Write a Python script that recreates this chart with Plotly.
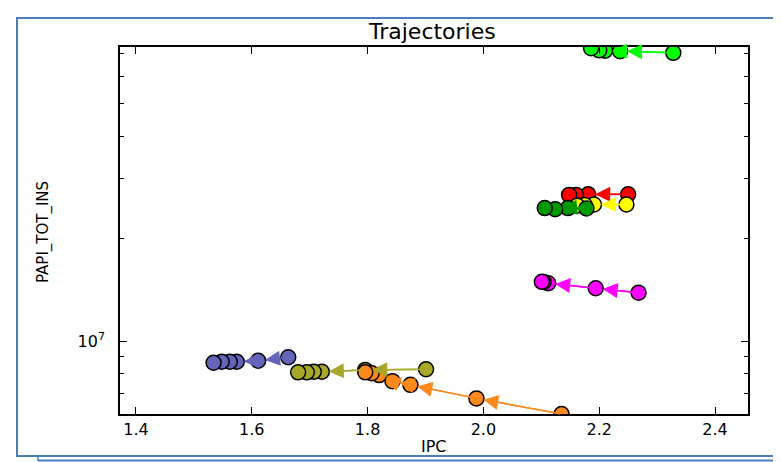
import numpy as np
import plotly.graph_objects as go

# ---------------- data ----------------
lime_ipc = [2.328, 2.236, 2.210, 2.200, 2.186]
lime_ins = [7.04e7, 7.12e7, 7.14e7, 7.16e7, 7.26e7]

red_ipc = [2.250, 2.181, 2.160, 2.148]
red_ins = [2.70e7, 2.70e7, 2.69e7, 2.69e7]

yellow_ipc = [2.247, 2.191, 2.175, 2.162]
yellow_ins = [2.52e7, 2.52e7, 2.51e7, 2.50e7]

green_ipc = [2.178, 2.146, 2.124, 2.106]
green_ins = [2.455e7, 2.46e7, 2.44e7, 2.46e7]

magenta_ipc = [2.268, 2.194, 2.112, 2.104, 2.101]
magenta_ins = [1.387e7, 1.429e7, 1.479e7, 1.49e7, 1.493e7]

blue_ipc = [1.663, 1.611, 1.574, 1.562, 1.548, 1.534]
blue_ins = [8.96e6, 8.75e6, 8.69e6, 8.69e6, 8.69e6, 8.63e6]

olive_ipc = [1.901, 1.796, 1.721, 1.707, 1.695, 1.680]
olive_ins = [8.26e6, 8.22e6, 8.12e6, 8.12e6, 8.09e6, 8.09e6]

orange_ipc = [2.135, 1.988, 1.874, 1.843, 1.820, 1.807, 1.796]
orange_ins = [6.10e6, 6.78e6, 7.43e6, 7.62e6, 7.94e6, 8.04e6, 8.09e6]

series = [
    ("lime", lime_ipc, lime_ins, "#00ff00"),
    ("red", red_ipc, red_ins, "#ff0000"),
    ("yellow", yellow_ipc, yellow_ins, "#ffff00"),
    ("green", green_ipc, green_ins, "#009a00"),
    ("magenta", magenta_ipc, magenta_ins, "#ff00ff"),
    ("blue", blue_ipc, blue_ins, "#6464b8"),
    ("olive", olive_ipc, olive_ins, "#a8a828"),
    ("orange", orange_ipc, orange_ins, "#ff8a1c"),
]

x_tickvals = [1.4, 1.6, 1.8, 2.0, 2.2, 2.4]
x_ticktext = ["1.4", "1.6", "1.8", "2.0", "2.2", "2.4"]
y_tickvals = [1e7]
y_ticktext = ["10<sup>7</sup>"]
y_minor_vals = [6e6, 7e6, 8e6, 9e6, 2e7, 3e7, 4e7, 5e7, 6e7, 7e7]

x_range = [1.3724, 2.457]
y_range = [6.7853, 7.8647]  # log10 units

# ---------------- figure ----------------
# the page body has an 8px margin, so the figure is placed 8px right/down
OFF = 8
SW, SH = 781, 462               # screen size
W, H = SW - OFF, SH - OFF
ML, MR, MT, MB = 120 - OFF, SW - 748, 47 - OFF, SH - 414
PW, PH = W - ML - MR, H - MT - MB


def px2paper_x(px):   # screen px -> paper fraction
    return (px - OFF - ML) / PW


def px2paper_y(py):
    return (H - MB - (py - OFF)) / PH


fig = go.Figure()
annotations = []
for name, xs, ys, col in series:
    fig.add_trace(go.Scatter(
        x=xs, y=ys, mode="lines", line=dict(color=col, width=1.5),
        hoverinfo="skip", showlegend=False))
    for i in range(len(xs) - 1):
        annotations.append(dict(
            x=xs[i + 1], y=float(np.log10(ys[i + 1])),
            ax=xs[i], ay=float(np.log10(ys[i])),
            xref="x", yref="y", axref="x", ayref="y",
            showarrow=True, arrowhead=2, arrowsize=2.0, arrowwidth=1.5,
            arrowcolor=col, standoff=7, text=""))

for name, xs, ys, col in series:
    fig.add_trace(go.Scatter(
        x=xs, y=ys, mode="markers", name=name,
        marker=dict(size=15, color=col, line=dict(color="black", width=1.5)),
        cliponaxis=True, showlegend=False))

annotations += [
    dict(text="Trajectories", x=px2paper_x(432), y=px2paper_y(32), xref="paper", yref="paper",
         showarrow=False, font=dict(family="DejaVu Sans", size=22, color="black"),
         xanchor="center", yanchor="middle"),
    dict(text="IPC", x=px2paper_x(434), y=px2paper_y(446), xref="paper", yref="paper",
         showarrow=False, font=dict(family="DejaVu Sans", size=16, color="black"),
         xanchor="center", yanchor="middle"),
    dict(text="PAPI_TOT_INS", x=px2paper_x(43), y=px2paper_y(232), xref="paper", yref="paper",
         showarrow=False, textangle=-90, font=dict(family="DejaVu Sans", size=15, color="black"),
         xanchor="center", yanchor="middle"),
]

frame_col = "#4a7ebb"
shapes = [
    dict(type="rect", xref="paper", yref="paper",
         x0=px2paper_x(17), x1=px2paper_x(779), y0=px2paper_y(456), y1=px2paper_y(18),
         line=dict(color=frame_col, width=2), layer="below"),
    dict(type="line", xref="paper", yref="paper",
         x0=px2paper_x(38), x1=px2paper_x(781), y0=px2paper_y(460.5), y1=px2paper_y(460.5),
         line=dict(color=frame_col, width=2)),
    dict(type="line", xref="paper", yref="paper",
         x0=px2paper_x(38), x1=px2paper_x(38), y0=px2paper_y(456), y1=px2paper_y(461),
         line=dict(color=frame_col, width=1.5)),
]

axis_common = dict(
    showgrid=False, zeroline=False, showline=True, linecolor="black", linewidth=1.5,
    mirror="ticks", ticks="inside", tickcolor="black", tickwidth=1.2, ticklen=7,
    tickfont=dict(family="DejaVu Sans", size=16, color="black"),
)

fig.update_layout(
    width=W, height=H,
    margin=dict(l=ML, r=MR, t=MT, b=MB, pad=0),
    paper_bgcolor="white", plot_bgcolor="white",
    xaxis=dict(range=x_range, tickvals=x_tickvals, ticktext=x_ticktext, **axis_common),
    yaxis=dict(type="log", range=y_range, tickvals=y_tickvals, ticktext=y_ticktext,
               ticklabelstandoff=10,
               minor=dict(tickvals=y_minor_vals, ticks="inside", ticklen=4,
                          tickcolor="black", tickwidth=1.2),
               **axis_common),
    annotations=annotations, shapes=shapes,
    showlegend=False,
)

fig.write_html("out.html")
